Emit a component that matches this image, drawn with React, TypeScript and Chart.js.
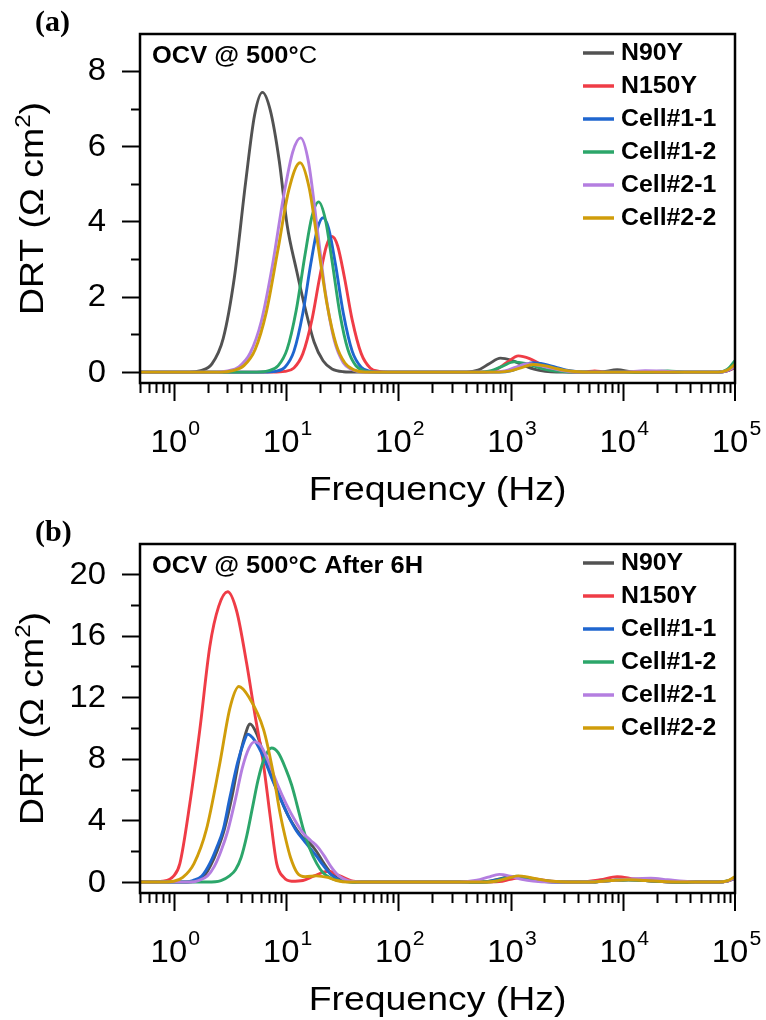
import React, { useEffect, useRef } from 'react';
import { Chart, registerables } from 'chart.js';

Chart.register(...registerables);

// ---------- data (x = log10 of frequency in Hz, y = DRT in Ω cm²) ----------
const SERIES_NAMES = ['N90Y', 'N150Y', 'Cell#1-1', 'Cell#1-2', 'Cell#2-1', 'Cell#2-2'];
const SERIES_COLORS = ['#525252', '#ef3c46', '#1f66cf', '#2ca66a', '#b47ee0', '#d09d0a'];

// Panel (a): OCV @ 500°C
const A_N90Y: [number, number][] = [
  [-0.3, 0], [0.14, 0], [0.24, 0.04], [0.34, 0.22], [0.44, 0.89], [0.54, 2.52], [0.64, 5.04], [0.72, 6.83],
  [0.79, 7.43], [0.86, 6.95], [0.94, 5.6], [1.01, 3.9], [1.09, 2.75], [1.17, 1.7], [1.25, 0.8], [1.33, 0.3],
  [1.41, 0.08], [1.51, 0.01], [1.64, 0], [2.4, 0], [2.61, 0], [2.71, 0.05], [2.81, 0.22], [2.91, 0.37],
  [3.01, 0.31], [3.11, 0.19], [3.21, 0.08], [3.31, 0.02], [3.41, 0], [3.8, 0], [3.95, 0.06], [4.1, 0],
  [4.85, 0], [4.93, 0.03], [5.0, 0.12],
];
const A_N150Y: [number, number][] = [
  [-0.3, 0], [0.88, 0], [0.99, 0.02], [1.07, 0.11], [1.15, 0.49], [1.23, 1.38], [1.3, 2.52], [1.36, 3.35],
  [1.41, 3.6], [1.46, 3.35], [1.52, 2.52], [1.59, 1.38], [1.67, 0.49], [1.75, 0.11], [1.83, 0.02], [1.91, 0],
  [2.77, 0], [2.87, 0.06], [2.97, 0.26], [3.07, 0.43], [3.17, 0.36], [3.27, 0.21], [3.37, 0.09], [3.47, 0.03],
  [3.57, 0], [3.65, 0], [3.75, 0.03], [3.85, 0], [4.85, 0], [4.93, 0.03], [5.0, 0.12],
];
const A_CELL11: [number, number][] = [
  [-0.3, 0], [0.8, 0], [0.91, 0.02], [0.99, 0.13], [1.07, 0.55], [1.15, 1.57], [1.22, 2.87], [1.28, 3.81],
  [1.33, 4.1], [1.38, 3.81], [1.44, 2.87], [1.51, 1.57], [1.59, 0.55], [1.67, 0.13], [1.75, 0.02], [1.83, 0],
  [2.9, 0], [3.0, 0.03], [3.1, 0.15], [3.2, 0.25], [3.3, 0.21], [3.4, 0.13], [3.5, 0.05], [3.6, 0.01],
  [3.7, 0], [4.85, 0], [4.93, 0.04], [5.0, 0.15],
];
const A_CELL12: [number, number][] = [
  [-0.3, 0], [0.74, 0], [0.84, 0.03], [0.93, 0.17], [1.01, 0.61], [1.09, 1.63], [1.17, 3.13], [1.23, 4.12],
  [1.29, 4.52], [1.35, 4.06], [1.41, 2.95], [1.48, 1.55], [1.55, 0.61], [1.62, 0.18], [1.7, 0.03], [1.79, 0],
  [2.73, 0], [2.83, 0.04], [2.93, 0.16], [3.03, 0.27], [3.13, 0.23], [3.23, 0.14], [3.33, 0.06], [3.43, 0.02],
  [3.53, 0], [4.2, 0], [4.4, 0.03], [4.55, 0], [4.85, 0], [4.93, 0.07], [5.0, 0.3],
];
const A_CELL21: [number, number][] = [
  [-0.3, 0], [0.38, 0], [0.48, 0.03], [0.58, 0.14], [0.68, 0.5], [0.78, 1.35], [0.88, 2.85], [0.98, 4.7],
  [1.06, 5.85], [1.13, 6.22], [1.2, 5.58], [1.28, 3.77], [1.35, 2.12], [1.43, 0.84], [1.51, 0.25], [1.59, 0.06],
  [1.68, 0], [2.85, 0], [2.95, 0.03], [3.05, 0.13], [3.15, 0.22], [3.25, 0.18], [3.35, 0.11], [3.45, 0.05],
  [3.55, 0.01], [3.65, 0], [4.0, 0], [4.2, 0.04], [4.4, 0.02], [4.55, 0], [4.85, 0], [4.93, 0.04], [5.0, 0.15],
];
const A_CELL22: [number, number][] = [
  [-0.3, 0], [0.42, 0], [0.525, 0.04], [0.625, 0.17], [0.725, 0.6], [0.825, 1.6], [0.925, 3.2], [1.025, 4.84],
  [1.125, 5.56], [1.205, 4.91], [1.285, 3.37], [1.365, 1.81], [1.445, 0.75], [1.525, 0.24], [1.605, 0.06],
  [1.705, 0], [2.9, 0], [3.0, 0.03], [3.1, 0.12], [3.2, 0.2], [3.3, 0.17], [3.4, 0.1], [3.5, 0.04], [3.6, 0.01],
  [3.7, 0], [4.85, 0], [4.93, 0.05], [5.0, 0.2],
];

// Panel (b): OCV @ 500°C After 6H
const B_N90Y: [number, number][] = [
  [-0.3, 0], [0.12, 0], [0.19, 0.1], [0.27, 0.4], [0.33, 1.1], [0.39, 2.1], [0.45, 3.4], [0.52, 5.6],
  [0.58, 7.9], [0.63, 9.4], [0.68, 10.26], [0.74, 9.6], [0.8, 8.3], [0.87, 6.9], [0.946, 5.5], [1.02, 4.3],
  [1.095, 3.4], [1.16, 2.8], [1.214, 2.5], [1.27, 2.0], [1.33, 1.3], [1.4, 0.6], [1.47, 0.2], [1.55, 0.04],
  [1.65, 0], [2.65, 0], [2.8, 0.035], [2.9, 0.21], [3.0, 0.35], [3.1, 0.26], [3.2, 0.14], [3.3, 0.04],
  [3.45, 0], [3.7, 0], [3.9, 0.1], [4.05, 0.15], [4.2, 0.1], [4.4, 0.02], [4.55, 0], [4.85, 0], [4.93, 0.06],
  [5.0, 0.25],
];
const B_N150Y: [number, number][] = [
  [-0.3, 0], [-0.2, 0], [-0.1, 0.05], [0.0, 0.4], [0.054, 1.2], [0.143, 5.1], [0.232, 9.9], [0.321, 15.3],
  [0.4, 17.9], [0.48, 18.85], [0.56, 17.6], [0.649, 14.2], [0.72, 11.0], [0.798, 7.7], [0.86, 4.2],
  [0.917, 1.2], [0.98, 0.3], [1.05, 0.05], [1.15, 0.1], [1.25, 0.4], [1.38, 0.7], [1.48, 0.4], [1.6, 0.05],
  [1.7, 0], [2.75, 0], [2.9, 0.03], [3.0, 0.18], [3.1, 0.3], [3.2, 0.22], [3.3, 0.12], [3.4, 0.04], [3.55, 0],
  [3.6, 0], [3.8, 0.15], [3.95, 0.35], [4.1, 0.2], [4.3, 0.05], [4.45, 0], [4.85, 0], [4.93, 0.05], [5.0, 0.25],
];
const B_CELL11: [number, number][] = [
  [-0.3, 0], [0.1, 0], [0.17, 0.1], [0.25, 0.4], [0.32, 1.2], [0.38, 2.2], [0.44, 3.4], [0.5, 5.5],
  [0.57, 7.8], [0.62, 9.0], [0.66, 9.6], [0.72, 9.2], [0.8, 8.1], [0.87, 6.8], [0.946, 5.5], [1.02, 4.3],
  [1.095, 3.3], [1.16, 2.7], [1.214, 2.2], [1.27, 1.7], [1.33, 1.1], [1.4, 0.5], [1.47, 0.15], [1.55, 0.03],
  [1.65, 0], [2.65, 0], [2.8, 0.035], [2.92, 0.21], [3.02, 0.35], [3.12, 0.26], [3.22, 0.14], [3.32, 0.04],
  [3.47, 0], [3.7, 0], [3.9, 0.1], [4.05, 0.15], [4.2, 0.1], [4.4, 0.02], [4.55, 0], [4.85, 0], [4.93, 0.06],
  [5.0, 0.25],
];
const B_CELL12: [number, number][] = [
  [-0.3, 0], [0.3, 0], [0.42, 0.1], [0.5, 0.42], [0.55, 0.8], [0.6, 1.6], [0.65, 3.0], [0.7, 4.8],
  [0.75, 6.6], [0.8, 7.9], [0.87, 8.7], [0.93, 8.4], [1.0, 7.3], [1.05, 6.3], [1.095, 5.1], [1.155, 3.4],
  [1.21, 2.2], [1.274, 1.2], [1.33, 0.6], [1.4, 0.25], [1.48, 0.08], [1.56, 0.02], [1.65, 0], [2.7, 0],
  [2.85, 0.04], [2.95, 0.23], [3.05, 0.38], [3.15, 0.29], [3.25, 0.15], [3.35, 0.05], [3.5, 0], [3.7, 0],
  [3.9, 0.1], [4.05, 0.15], [4.2, 0.1], [4.4, 0.02], [4.55, 0], [4.85, 0], [4.93, 0.07], [5.0, 0.3],
];
const B_CELL21: [number, number][] = [
  [-0.3, 0], [0.15, 0], [0.22, 0.1], [0.3, 0.4], [0.36, 1.0], [0.42, 2.0], [0.48, 3.3], [0.55, 5.4],
  [0.61, 7.4], [0.67, 8.7], [0.72, 9.1], [0.78, 8.8], [0.85, 7.7], [0.92, 6.4], [1.0, 5.1], [1.08, 4.0],
  [1.15, 3.2], [1.22, 2.7], [1.28, 2.3], [1.34, 1.7], [1.4, 1.0], [1.47, 0.4], [1.55, 0.1], [1.63, 0.02],
  [1.72, 0], [2.55, 0], [2.7, 0.12], [2.8, 0.32], [2.9, 0.5], [3.0, 0.38], [3.1, 0.18], [3.2, 0.06],
  [3.35, 0], [3.7, 0], [3.9, 0.1], [4.1, 0.22], [4.25, 0.25], [4.4, 0.15], [4.6, 0.02], [4.7, 0], [4.85, 0],
  [4.93, 0.06], [5.0, 0.28],
];
const B_CELL22: [number, number][] = [
  [-0.3, 0], [-0.1, 0], [0.0, 0.05], [0.08, 0.3], [0.18, 1.2], [0.29, 3.4], [0.41, 7.7], [0.5, 11.3],
  [0.58, 12.7], [0.67, 12.0], [0.8, 9.9], [0.88, 7.3], [0.946, 4.5], [1.0, 2.7], [1.04, 1.6], [1.1, 0.6],
  [1.17, 0.35], [1.27, 0.4], [1.37, 0.3], [1.45, 0.1], [1.55, 0], [2.7, 0], [2.85, 0.04], [2.97, 0.24],
  [3.07, 0.4], [3.17, 0.3], [3.27, 0.16], [3.37, 0.05], [3.52, 0], [3.7, 0], [3.9, 0.1], [4.05, 0.15],
  [4.2, 0.1], [4.4, 0.02], [4.55, 0], [4.85, 0], [4.93, 0.08], [5.0, 0.35],
];

// ---------- axes ----------
const X_MIN_HZ = 0.5;
const X_MAX_HZ = 100000;
const X_LABEL_EXPONENTS = [0, 1, 2, 3, 4, 5];
const A_Y_MAJOR = [0, 2, 4, 6, 8];
const A_Y_MINOR = [1, 3, 5, 7];
const B_Y_MAJOR = [0, 4, 8, 12, 16, 20];
const B_Y_MINOR = [2, 6, 10, 14, 18];

const SANS = '"Liberation Sans", Arial, Helvetica, sans-serif';
const SERIF = '"Liberation Serif", "Times New Roman", serif';

type PanelCfg = {
  panel: string;
  titleBold: string;
  titleRegular: string;
  yMin: number;
  yMax: number;
  yMajor: number[];
  yMinor: number[];
  series: [number, number][][];
};

const PANEL_A: PanelCfg = {
  panel: '(a)',
  titleBold: 'OCV @ 500°',
  titleRegular: 'C',
  yMin: -0.29,
  yMax: 8.98,
  yMajor: A_Y_MAJOR,
  yMinor: A_Y_MINOR,
  series: [A_N90Y, A_N150Y, A_CELL11, A_CELL12, A_CELL21, A_CELL22],
};
const PANEL_B: PanelCfg = {
  panel: '(b)',
  titleBold: 'OCV @ 500°C After 6H',
  titleRegular: '',
  yMin: -0.71,
  yMax: 21.95,
  yMajor: B_Y_MAJOR,
  yMinor: B_Y_MINOR,
  series: [B_N90Y, B_N150Y, B_CELL11, B_CELL12, B_CELL21, B_CELL22],
};

// draw text with a slight horizontal stretch; returns drawn width
function txt(
  ctx: CanvasRenderingContext2D,
  s: string,
  x: number,
  y: number,
  font: string,
  sx: number,
  align: 'left' | 'center' | 'right' = 'left',
) {
  ctx.font = font;
  const w = ctx.measureText(s).width * sx;
  const start = align === 'center' ? x - w / 2 : align === 'right' ? x - w : x;
  ctx.save();
  ctx.translate(start, y);
  ctx.scale(sx, 1);
  ctx.textAlign = 'left';
  ctx.fillText(s, 0, 0);
  ctx.restore();
  return w;
}
function width(ctx: CanvasRenderingContext2D, s: string, font: string, sx: number) {
  ctx.font = font;
  return ctx.measureText(s).width * sx;
}

function makeDeco(cfg: PanelCfg) {
  return {
    id: 'deco' + cfg.panel,
    afterDraw(chart: any) {
      const ctx: CanvasRenderingContext2D = chart.ctx;
      const ca = chart.chartArea;
      const xs = chart.scales.x;
      const ys = chart.scales.y;
      ctx.save();
      ctx.strokeStyle = '#000';
      ctx.fillStyle = '#000';
      ctx.lineCap = 'butt';

      // y ticks
      ctx.lineWidth = 2;
      const yt = [
        ...cfg.yMajor.map((v) => ({ v, len: 18 })),
        ...cfg.yMinor.map((v) => ({ v, len: 9 })),
      ];
      for (const t of yt) {
        const y = Math.round(ys.getPixelForValue(t.v)) + 0.5;
        ctx.beginPath();
        ctx.moveTo(ca.left - t.len, y);
        ctx.lineTo(ca.left, y);
        ctx.stroke();
      }
      ctx.textBaseline = 'middle';
      for (const v of cfg.yMajor) {
        txt(ctx, String(v), 106, ys.getPixelForValue(v) + 1, `31px ${SANS}`, 1.06, 'right');
      }

      // x ticks (log)
      for (let e = -1; e <= 4; e++) {
        for (let m = 1; m <= 9; m++) {
          const v = m * Math.pow(10, e);
          if (v < X_MIN_HZ - 1e-9 || v > X_MAX_HZ) continue;
          const x = Math.round(xs.getPixelForValue(v)) + 0.5;
          const len = m === 1 ? 18 : 10;
          ctx.beginPath();
          ctx.moveTo(x, ca.bottom);
          ctx.lineTo(x, ca.bottom + len);
          ctx.stroke();
        }
      }
      {
        const x = xs.getPixelForValue(X_MAX_HZ);
        ctx.beginPath();
        ctx.moveTo(x, ca.bottom);
        ctx.lineTo(x, ca.bottom + 18);
        ctx.stroke();
      }
      // x labels 10^n
      ctx.textBaseline = 'alphabetic';
      const base = ca.bottom + 69;
      const fBig = `31px ${SANS}`;
      const fSup = `20px ${SANS}`;
      for (const n of X_LABEL_EXPONENTS) {
        const x = xs.getPixelForValue(Math.pow(10, n));
        const w1 = width(ctx, '10', fBig, 1.06);
        const w2 = width(ctx, String(n), fSup, 1.06);
        const x0 = x - (w1 + w2) / 2 + 1;
        txt(ctx, '10', x0, base, fBig, 1.06);
        txt(ctx, String(n), x0 + w1 + 1, base - 17, fSup, 1.06);
      }

      // x title
      txt(ctx, 'Frequency (Hz)', (ca.left + ca.right) / 2, ca.bottom + 117, `34px ${SANS}`, 1.1, 'center');

      // y title (rotated)
      ctx.save();
      ctx.translate(43, (ca.top + ca.bottom) / 2);
      ctx.rotate(-Math.PI / 2);
      const fT = `34px ${SANS}`;
      const fTs = `22px ${SANS}`;
      const p1 = 'DRT (Ω cm';
      const wp1 = width(ctx, p1, fT, 1.1);
      const wp2 = width(ctx, '2', fTs, 1.1);
      const wp3 = width(ctx, ')', fT, 1.1);
      let sx = -(wp1 + wp2 + wp3) / 2;
      txt(ctx, p1, sx, 0, fT, 1.1);
      sx += wp1;
      txt(ctx, '2', sx, -13, fTs, 1.1);
      sx += wp2;
      txt(ctx, ')', sx, 0, fT, 1.1);
      ctx.restore();

      // frame
      ctx.lineWidth = 2.5;
      ctx.strokeRect(ca.left, ca.top, ca.right - ca.left, ca.bottom - ca.top);

      // panel label
      txt(ctx, cfg.panel, 35, 31, `bold 30px ${SERIF}`, 1.0);

      // inset title
      const wb = txt(ctx, cfg.titleBold, 152, 63, `bold 24px ${SANS}`, 1.06);
      if (cfg.titleRegular) {
        txt(ctx, cfg.titleRegular, 152 + wb, 63, `24px ${SANS}`, 1.06);
      }

      // legend
      ctx.textBaseline = 'middle';
      chart.data.datasets.forEach((ds: any, i: number) => {
        const y = 53 + i * 33;
        ctx.strokeStyle = ds.borderColor;
        ctx.lineWidth = 3.5;
        ctx.beginPath();
        ctx.moveTo(583, y);
        ctx.lineTo(614, y);
        ctx.stroke();
        ctx.fillStyle = '#000';
        txt(ctx, ds.label, 621, y + 1, `bold 23px ${SANS}`, 1.08);
      });
      ctx.restore();
    },
  };
}

function Panel({ cfg }: { cfg: PanelCfg }) {
  const ref = useRef<HTMLCanvasElement>(null);
  useEffect(() => {
    const canvas = ref.current;
    if (!canvas) return;
    const datasets = cfg.series.map((pts, i) => ({
      label: SERIES_NAMES[i],
      data: pts.map(([lf, v]) => ({ x: Math.pow(10, lf), y: v })),
      borderColor: SERIES_COLORS[i],
      backgroundColor: SERIES_COLORS[i],
      borderWidth: 2.9,
      pointRadius: 0,
      fill: false,
      cubicInterpolationMode: 'monotone' as const,
      order: SERIES_NAMES.length - i,
    }));
    const chart = new Chart(canvas, {
      type: 'line',
      data: { datasets },
      options: {
        responsive: false,
        animation: false,
        devicePixelRatio: 1,
        layout: { padding: { left: 140, right: 31, top: 34, bottom: 127 } },
        scales: {
          x: { type: 'logarithmic', min: X_MIN_HZ, max: X_MAX_HZ, display: false },
          y: { type: 'linear', min: cfg.yMin, max: cfg.yMax, display: false },
        },
        plugins: { legend: { display: false }, tooltip: { enabled: false } },
        elements: { line: { borderCapStyle: 'round', borderJoinStyle: 'round' } },
      },
      plugins: [makeDeco(cfg)],
    } as any);
    return () => chart.destroy();
  }, [cfg]);
  return <canvas ref={ref} width={766} height={510} style={{ display: 'block', width: 766, height: 510 }} />;
}

export default function App() {
  return (
    <div style={{ position: 'absolute', left: 0, top: 0, width: 766, height: 1020, background: '#fff' }}>
      <Panel cfg={PANEL_A} />
      <Panel cfg={PANEL_B} />
    </div>
  );
}
